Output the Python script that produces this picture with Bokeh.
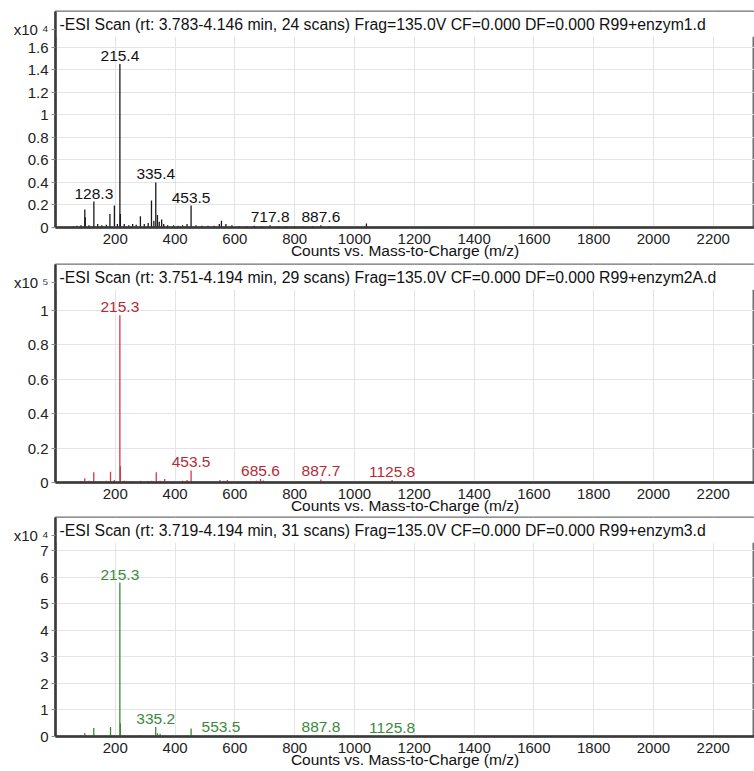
from bokeh.plotting import figure
from bokeh.layouts import column
from bokeh.models import Range1d, FixedTicker, NumeralTickFormatter, Label, BoxAnnotation, ColumnDataSource
from bokeh.core.properties import value
from bokeh.embed import file_html
from bokeh.resources import INLINE

FONT = "Liberation Sans"

# ---------------- data ----------------
x_ticks = [200, 400, 600, 800, 1000, 1200, 1400, 1600, 1800, 2000, 2200]

# Panel 1 (x10^4)
title1 = "-ESI Scan (rt: 3.783-4.146 min, 24 scans) Frag=135.0V CF=0.000 DF=0.000 R99+enzym1.d"
mz1 = [60, 72, 85, 98, 99.5, 112, 128.3, 141, 155, 170, 182, 197, 207, 215.4, 217, 230, 245, 258,
       270, 284, 297, 310, 321, 329, 335.4, 341, 347, 355, 362, 375, 395, 410, 425, 440, 453.5, 470,
       490, 510, 530, 548, 555, 570, 590, 615, 640, 665, 690, 717.8, 745, 770, 800, 830, 860, 887.6,
       915, 950, 990, 1040, 1100]
int1 = [0.01, 0.015, 0.02, 0.16, 0.09, 0.02, 0.23, 0.03, 0.02, 0.025, 0.12, 0.195, 0.03, 1.45, 0.12,
        0.03, 0.02, 0.03, 0.025, 0.10, 0.03, 0.04, 0.24, 0.06, 0.40, 0.11, 0.05, 0.07, 0.03, 0.02,
        0.02, 0.015, 0.02, 0.03, 0.195, 0.02, 0.015, 0.015, 0.015, 0.03, 0.06, 0.03, 0.02, 0.01,
        0.01, 0.015, 0.01, 0.02, 0.01, 0.01, 0.008, 0.008, 0.01, 0.02, 0.008, 0.006, 0.006, 0.035,
        0.005]
lab1_mz = [128.3, 215.4, 335.4, 453.5, 717.8, 887.6]
lab1_int = [0.23, 1.45, 0.40, 0.195, 0.02, 0.02]
y1_ticks = [0, 0.2, 0.4, 0.6, 0.8, 1.0, 1.2, 1.4, 1.6]
y1_max = 1.915

# Panel 2 (x10^5)
title2 = "-ESI Scan (rt: 3.751-4.194 min, 29 scans) Frag=135.0V CF=0.000 DF=0.000 R99+enzym2A.d"
mz2 = [60, 85, 98, 112, 128, 150, 170, 184, 197, 215.3, 217, 230, 258, 284, 310, 322, 337, 350,
       365, 395, 425, 440, 453.5, 470, 500, 530, 550, 563, 575, 610, 650, 672, 685.6, 695, 720, 790,
       887.7, 930, 1000, 1125.8]
int2 = [0.005, 0.008, 0.024, 0.01, 0.06, 0.008, 0.01, 0.063, 0.015, 0.97, 0.095, 0.01, 0.008, 0.01,
        0.008, 0.01, 0.06, 0.01, 0.02, 0.005, 0.01, 0.015, 0.07, 0.005, 0.004, 0.004, 0.015, 0.01,
        0.015, 0.004, 0.004, 0.01, 0.02, 0.012, 0.004, 0.004, 0.018, 0.004, 0.003, 0.015]
lab2_mz = [215.3, 453.5, 685.6, 887.7, 1125.8]
lab2_int = [0.97, 0.07, 0.02, 0.018, 0.015]
y2_ticks = [0, 0.2, 0.4, 0.6, 0.8, 1.0]
y2_max = 1.265

# Panel 3 (x10^4)
title3 = "-ESI Scan (rt: 3.719-4.194 min, 31 scans) Frag=135.0V CF=0.000 DF=0.000 R99+enzym3.d"
mz3 = [60, 85, 98, 112, 128, 150, 170, 184, 197, 215.3, 217, 230, 258, 284, 310, 335.2, 341, 350,
       365, 395, 425, 440, 453.5, 470, 500, 530, 553.5, 563, 575, 610, 650, 672, 685, 695, 720, 790,
       887.8, 930, 1000, 1125.8]
int3 = [0.02, 0.05, 0.13, 0.03, 0.32, 0.03, 0.04, 0.36, 0.06, 5.8, 0.5, 0.04, 0.03, 0.05, 0.03,
        0.36, 0.12, 0.10, 0.06, 0.02, 0.03, 0.05, 0.30, 0.03, 0.02, 0.02, 0.06, 0.03, 0.04, 0.02,
        0.02, 0.02, 0.03, 0.03, 0.01, 0.01, 0.05, 0.01, 0.01, 0.03]
lab3_mz = [215.3, 335.2, 553.5, 887.8, 1125.8]
lab3_int = [5.8, 0.36, 0.06, 0.05, 0.03]
y3_ticks = [0, 1, 2, 3, 4, 5, 6, 7]
y3_max = 8.25

x_label = "Counts vs. Mass-to-Charge (m/z)"
AXIS_H = 37


def panel(title, mz, inten, lab_mz, lab_int, yticks, ymax, exponent, line_color, text_color,
          height, border_top):
    frame_h = height - border_top - AXIS_H
    mult_pos = round(ymax - 18 * ymax / frame_h, 3)

    p = figure(width=754, height=height, output_backend="svg", toolbar_location=None,
               x_range=Range1d(0, 2338), y_range=Range1d(0, ymax),
               min_border_left=55, min_border_right=0, min_border_top=border_top,
               min_border_bottom=0)
    p.background_fill_color = "white"
    p.border_fill_color = "white"
    p.outline_line_color = "#6e6e6e"
    p.outline_line_width = 2

    band = BoxAnnotation(bottom=ymax - 25 * ymax / frame_h, fill_color="white", fill_alpha=1,
                         line_alpha=0, level="underlay")
    p.add_layout(band)

    p.xgrid.ticker = FixedTicker(ticks=x_ticks)
    p.ygrid.ticker = FixedTicker(ticks=yticks)
    p.grid.grid_line_color = "#e4e4e4"
    p.grid.grid_line_width = 1

    src = ColumnDataSource(dict(x=mz, y=inten, y0=[0] * len(mz)))
    p.segment(x0="x", y0="y0", x1="x", y1="y", source=src, line_color=line_color, line_width=1.3)

    lsrc = ColumnDataSource(dict(x=lab_mz, y=lab_int, t=[f"{m:.1f}" for m in lab_mz]))
    p.text(x="x", y="y", text="t", source=lsrc, text_align="center", text_baseline="bottom",
           y_offset=-3, text_font=value(FONT), text_font_size="15.5px", text_color=text_color)

    # x axis
    xa = p.xaxis[0]
    xa.ticker = FixedTicker(ticks=x_ticks)
    xa.axis_label = x_label
    xa.axis_label_text_font = FONT
    xa.axis_label_text_font_style = "normal"
    xa.axis_label_text_font_size = "15.5px"
    xa.axis_label_text_color = "#111111"
    xa.axis_label_standoff = -5
    xa.major_label_text_font = FONT
    xa.major_label_text_font_size = "15px"
    xa.major_label_text_color = "#222222"
    xa.major_label_standoff = 6
    xa.major_tick_out = 0
    xa.major_tick_in = 0
    xa.minor_tick_out = 0
    xa.minor_tick_in = 0
    xa.axis_line_color = "#3a3a3a"
    xa.axis_line_width = 2.5

    # y axis (the top extra tick carries the x10^n multiplier)
    ya = p.yaxis[0]
    ya.ticker = FixedTicker(ticks=list(yticks) + [mult_pos])
    ya.formatter = NumeralTickFormatter(format="0.[0]")
    ya.major_label_overrides = {mult_pos: "x10 " + exponent}
    ya.major_label_text_font = FONT
    ya.major_label_text_font_size = "15px"
    ya.major_label_text_color = "#222222"
    ya.major_label_standoff = 3
    ya.major_tick_out = 4
    ya.major_tick_in = 0
    ya.major_tick_line_color = "#8a8a8a"
    ya.minor_tick_out = 0
    ya.minor_tick_in = 0
    ya.axis_line_color = "#3a3a3a"
    ya.axis_line_width = 2.5

    # in-frame title
    p.add_layout(Label(x=4, y=frame_h - 10, x_units="screen", y_units="screen", text=title,
                       text_font=FONT, text_font_size="15.8px", text_color="#111111",
                       text_baseline="middle", text_align="left"))
    return p


p1 = panel(title1, mz1, int1, lab1_mz, lab1_int, y1_ticks, y1_max, "⁴", "#1a1a1a", "#111111", 261, 11)
p2 = panel(title2, mz2, int2, lab2_mz, lab2_int, y2_ticks, y2_max, "⁵", "#d23a48", "#b52a36", 255, 3)
p3 = panel(title3, mz3, int3, lab3_mz, lab3_int, y3_ticks, y3_max, "⁴", "#3c8a3c", "#3a8a3a", 254, 1)

layout = column(p1, p2, p3, spacing=0)
open("out.html", "w").write(file_html(layout, INLINE))
